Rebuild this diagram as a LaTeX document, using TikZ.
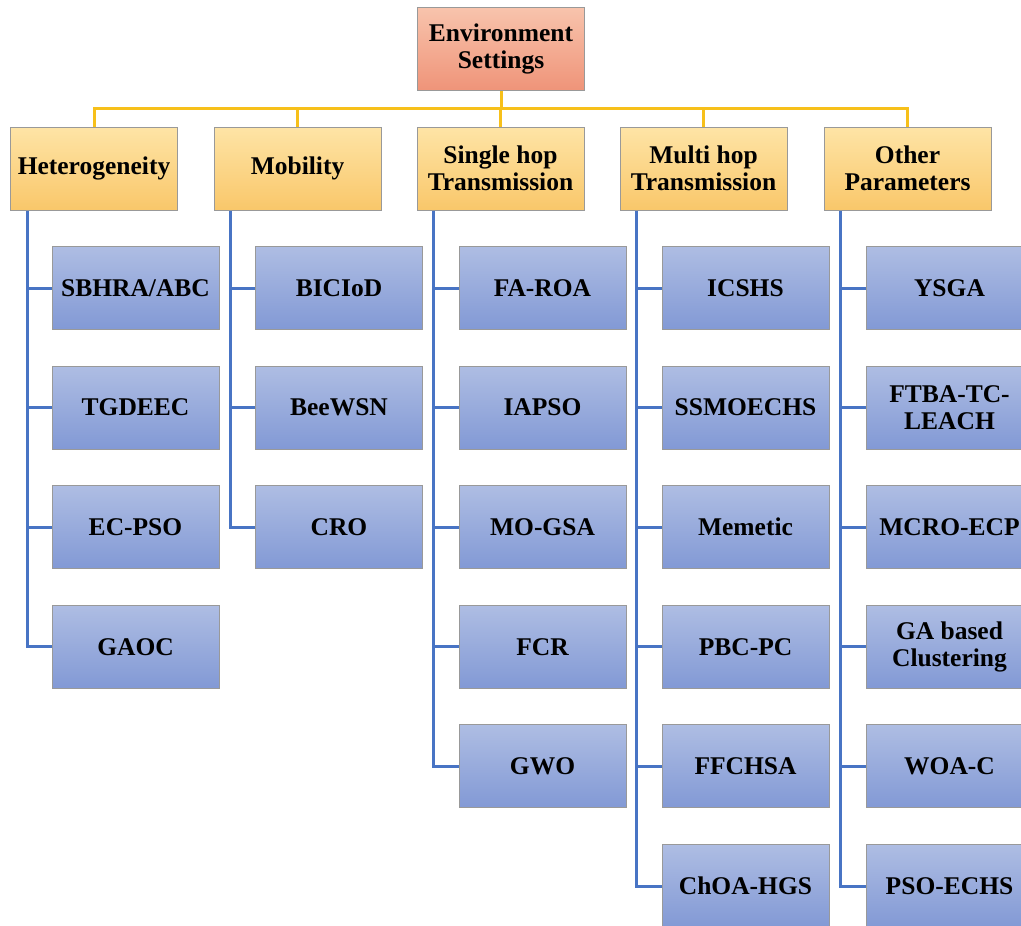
\documentclass[tikz,border=0pt]{standalone}
\usepackage{fontspec}
\setmainfont{Liberation Serif}
\begin{document}
\begin{tikzpicture}[x=1pt,y=-1pt,
  base/.style={draw=black!40, line width=1pt, minimum width=167pt, minimum height=83pt,
    inner sep=0pt, align=center, font=\bfseries\fontsize{25.5}{27}\selectfont},
  rootbox/.style={base, top color=rootTop, bottom color=rootBot},
  catbox/.style={base, top color=catTop, bottom color=catBot},
  leafbox/.style={base, top color=leafTop, bottom color=leafBot},
  busline/.style={draw=busYellow, line width=3pt},
  treeline/.style={draw=treeBlue, line width=3pt}]
\definecolor{rootTop}{HTML}{F8C4AD}
\definecolor{rootBot}{HTML}{EF9479}
\definecolor{catTop}{HTML}{FEE4A6}
\definecolor{catBot}{HTML}{F9C76A}
\definecolor{leafTop}{HTML}{AEBDE3}
\definecolor{leafBot}{HTML}{8299D5}
\definecolor{busYellow}{HTML}{F7C01A}
\definecolor{treeBlue}{HTML}{4874C4}

\fill[white] (0,0) rectangle (1021,926);
\useasboundingbox (0,0) rectangle (1021,926);
\clip (0,0) rectangle (1021,926);

% root and category level
\node[rootbox] (root) at (501,48.5) {Environment\\Settings};
\coordinate (bus) at (501,108);
\node[catbox] (het) at (94,168.5)  {Heterogeneity};
\node[catbox] (mob) at (297.5,168.5) {Mobility};
\node[catbox] (sgl) at (500.5,168.5) {Single hop\\Transmission};
\node[catbox] (mlt) at (703.5,168.5) {Multi hop\\Transmission};
\node[catbox] (oth) at (907.5,168.5) {Other\\Parameters};

% leaves
\foreach \nm/\txt [count=\i] in {h1/{SBHRA/ABC}, h2/TGDEEC, h3/EC-PSO, h4/GAOC}
  \node[leafbox] (\nm) at (135.5,{288+119.6*(\i-1)}) {\txt};
\foreach \nm/\txt [count=\i] in {m1/BICIoD, m2/BeeWSN, m3/CRO}
  \node[leafbox] (\nm) at (339,{288+119.6*(\i-1)}) {\txt};
\foreach \nm/\txt [count=\i] in {s1/FA-ROA, s2/IAPSO, s3/MO-GSA, s4/FCR, s5/GWO}
  \node[leafbox] (\nm) at (542.5,{288+119.6*(\i-1)}) {\txt};
\foreach \nm/\txt [count=\i] in {u1/ICSHS, u2/SSMOECHS, u3/Memetic, u4/PBC-PC, u5/FFCHSA, u6/ChOA-HGS}
  \node[leafbox] (\nm) at (745.5,{288+119.6*(\i-1)}) {\txt};
\node[leafbox] (o1) at (949.5,288)   {YSGA};
\node[leafbox] (o2) at (949.5,407.6) {FTBA-TC-\\LEACH};
\node[leafbox] (o3) at (949.5,527.2) {MCRO-ECP};
\node[leafbox] (o4) at (949.5,646.8) {GA based\\Clustering};
\node[leafbox] (o5) at (949.5,766.4) {WOA-C};
\node[leafbox] (o6) at (949.5,886)   {PSO-ECHS};

% yellow bus from root to categories
\draw[busline] (root.south) -- (bus);
\foreach \c in {het,mob,sgl,mlt,oth}
  \draw[busline] (\c.north) |- (bus);

% blue trunk under each category, with a stub to every leaf
\foreach \c/\last/\list in {het/h4/{h1,h2,h3}, mob/m3/{m1,m2}, sgl/s5/{s1,s2,s3,s4},
                      mlt/u6/{u1,u2,u3,u4,u5}, oth/o6/{o1,o2,o3,o4,o5}} {
  \coordinate (\c-trunk) at ([xshift=17pt]\c.south west);
  \draw[treeline] (\c-trunk) |- (\last.west);
  \foreach \l in \list
    \draw[treeline] (\c-trunk |- \l.west) -- (\l.west);
}
\end{tikzpicture}
\end{document}
